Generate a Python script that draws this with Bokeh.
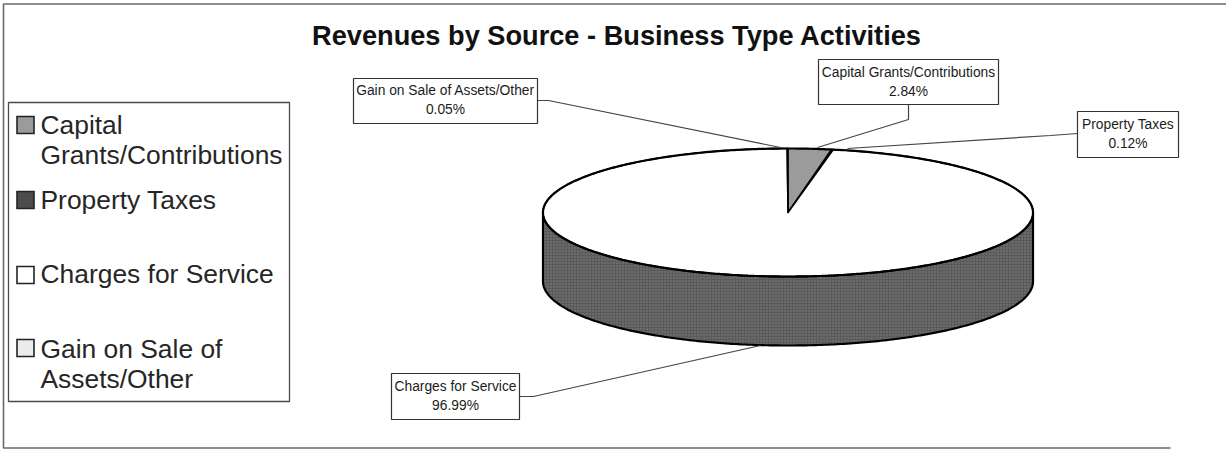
import numpy as np
from bokeh.core.properties import value
from bokeh.embed import file_html
from bokeh.models import Range1d
from bokeh.plotting import figure
from bokeh.resources import INLINE

# Revenue shares, in percent, clockwise from twelve o'clock
categories = ["Capital Grants/Contributions", "Property Taxes", "Charges for Service", "Gain on Sale of Assets/Other"]
shares = [2.84, 0.12, 96.99, 0.05]
top_colors = ["#9b9b9b", "#4c4c4c", "#ffffff", "#ececec"]
side_color = "#5a5a5a"

title = "Revenues by Source - Business Type Activities"
legend_lines = [["Capital", "Grants/Contributions"], ["Property Taxes"], ["Charges for Service"], ["Gain on Sale of", "Assets/Other"]]
legend_swatch_top = [116, 191, 266, 339]
legend_text_mid = [124, 199, 273, 348]

FONT = value("Liberation Sans")
INK = "#1c1c1c"
W, H = 1226, 449

# The pie is a tilted disc: centre, radii and wall height in page pixels
CX, CY, RX, RY, DEPTH = 787.5, 212, 245, 64, 69

# Callout boxes: (left, right, top, bottom, first text line, second text line)
boxes = {
    "Capital Grants/Contributions": (818, 998, 59, 104, 72, 91),
    "Property Taxes": (1077, 1178, 111, 157, 124, 143),
    "Charges for Service": (391, 519, 373, 419, 386, 405),
    "Gain on Sale of Assets/Other": (353, 537, 78, 123, 90, 109),
}
leaders = {
    "Capital Grants/Contributions": ([908, 908, 817], [104, 119, 147]),
    "Property Taxes": ([1077, 1050, 847], [133, 135, 148]),
    "Charges for Service": ([519, 533, 760], [396, 396, 345]),
    "Gain on Sale of Assets/Other": ([537, 548, 780], [100, 100, 147]),
}

p = figure(width=W, height=H, output_backend="svg", toolbar_location=None,
           x_range=Range1d(0, W), y_range=Range1d(H, 0), min_border=0,
           background_fill_color="#ffffff", border_fill_color="#ffffff", outline_line_color=None)
p.axis.visible = False
p.grid.visible = False


def rim(a, b, n=240):
    """Points on the disc's rim between two clockwise angles (radians from the top)."""
    t = np.linspace(a, b, n)
    return CX + RX * np.sin(t), CY - RY * np.cos(t)


# Outer frame of the chart area
p.line([1226, 3, 3, 1170], [3.5, 3.5, 447.5, 447.5], line_color="#6a6a6a", line_width=1.6)

# Slice boundaries follow directly from the shares
edges = np.concatenate([[0], np.cumsum(shares)]) / sum(shares) * 2 * np.pi

# Visible wall: the part of the rim that faces the viewer
xs, ys = rim(np.pi / 2, 3 * np.pi / 2)
p.patch(np.concatenate([xs, xs[::-1]]), np.concatenate([ys, ys[::-1] + DEPTH]),
        fill_color=side_color, hatch_pattern="dot", hatch_color="#a8a8a8", hatch_alpha=0.55,
        hatch_scale=3, line_color="#000000", line_width=2.2)

# Top face, one wedge per category
for i, color in enumerate(top_colors):
    xs, ys = rim(edges[i], edges[i + 1])
    p.patch(np.concatenate([[CX], xs]), np.concatenate([[CY], ys]), fill_color=color,
            line_color="#000000" if i else "#555555", line_width=1.0 if i == 0 else 1.6, line_join="round")
xs, ys = rim(0, 2 * np.pi, 480)
p.line(xs, ys, line_color="#000000", line_width=2.2)

# Callouts
for name, share in zip(categories, shares):
    left, right, top, bottom, t1, t2 = boxes[name]
    lx, ly = leaders[name]
    p.line(lx, ly, line_color="#444444", line_width=1.2)
    p.quad(left=[left], right=[right], top=[top], bottom=[bottom], fill_color="#ffffff",
           line_color="#333333", line_width=1.2)
    mid = (left + right) / 2
    p.text([mid, mid], [t1, t2], text=[name, f"{share:.2f}%"], text_font=FONT, text_font_size="13.8px",
           text_align="center", text_baseline="alphabetic", text_color=INK)

# Legend
p.quad(left=[8], right=[289], top=[102], bottom=[401], fill_color="#ffffff", line_color="#4a4a4a", line_width=1.3)
for lines, top, mid_y, color in zip(legend_lines, legend_swatch_top, legend_text_mid, top_colors):
    p.quad(left=[16.5], right=[33.5], top=[top], bottom=[top + 17], fill_color=color,
           line_color="#222222", line_width=1.6, line_join="miter")
    for k, line in enumerate(lines):
        p.text([40], [mid_y + 30 * k], text=[line], text_font=FONT, text_font_size="26.4px",
               text_baseline="alphabetic", text_color="#262626")

# Title
p.text([616.5], [35], text=[title], text_font=FONT, text_font_size="27.2px", text_font_style="bold",
       text_align="center", text_baseline="alphabetic", text_color="#111111")

open("out.html", "w").write(file_html(p, INLINE))
